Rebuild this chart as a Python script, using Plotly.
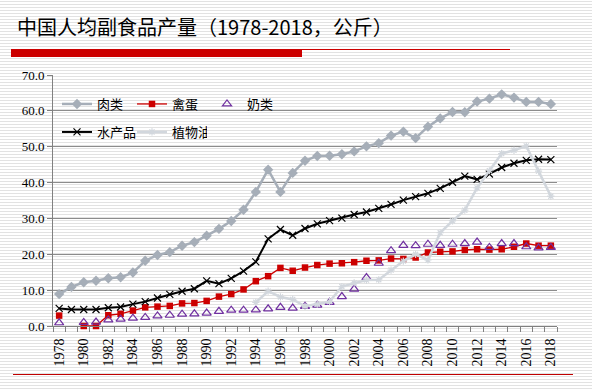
import plotly.graph_objects as go

years = list(range(1978, 2019))

meat = [8.9, 10.9, 12.2, 12.6, 13.3, 13.6, 14.9, 18.2, 19.8, 20.6,
        22.4, 23.4, 25.2, 27.1, 29.3, 32.4, 37.4, 43.6, 37.4, 42.7,
        46.1, 47.4, 47.5, 47.9, 48.7, 50.1, 51.0, 53.1, 54.2, 52.4,
        55.6, 57.9, 59.7, 59.6, 62.6, 63.4, 64.6, 63.7, 62.5, 62.5, 61.9]

eggs = [2.9, None, 0.0, 0.0, 3.0, 3.4, 4.3, 5.2, 5.4, 5.6,
        6.3, 6.4, 7.0, 8.2, 8.9, 10.2, 12.5, 13.9, 16.2, 15.4,
        16.3, 17.0, 17.4, 17.5, 17.8, 18.2, 18.3, 18.8, 18.7, 19.1,
        20.5, 20.7, 20.8, 21.2, 21.4, 21.3, 21.4, 22.1, 23.0, 22.4, 22.4]

milk = [0.9, None, 1.0, 1.1, 1.7, 1.9, 2.2, 2.4, 2.8, 3.0,
        3.3, 3.4, 3.6, 4.1, 4.4, 4.4, 4.5, 4.8, 5.2, 5.0,
        5.5, 5.8, 6.6, 8.2, 10.3, 13.5, 17.5, 21.0, 22.5, 22.4,
        22.8, 22.5, 22.8, 23.0, 23.4, 21.9, 23.0, 23.0, 22.1, 21.8, 21.9]

fish = [4.9, 4.6, 4.6, 4.6, 5.1, 5.3, 6.1, 6.8, 7.8, 8.8,
        9.7, 10.4, 12.6, 11.8, 13.3, 15.3, 17.9, 24.3, 26.9, 25.3,
        27.2, 28.5, 29.4, 30.1, 31.1, 31.8, 32.8, 33.9, 35.1, 36.1,
        37.0, 38.4, 40.1, 41.8, 40.9, 42.4, 44.2, 45.4, 46.2, 46.5, 46.4]

oil = [None] * 16 + [6.6, 9.7, 8.1, 7.4,
        5.5, 6.1, 6.8, 11.0, 12.0, 12.8, 12.9, 15.6, 18.1, 20.0,
        18.4, 26.0, 29.3, 32.3, 38.5, 43.3, 48.1, 49.0, 50.2, 43.2, 36.2]

names = ["肉类", "禽蛋", "奶类", "水产品", "植物油"]
title_text = "中国人均副食品产量（1978-2018，公斤）"
tick_years = list(range(1978, 2019, 2))

W, H = 592, 390
ML, MR, MT, MB = 53, 35, 75, 64
PW, PH = W - ML - MR, H - MT - MB


def px2x(x):
    return (x - ML) / PW


def py2y(y):
    return (H - MB - y) / PH


fig = go.Figure()

fig.add_trace(go.Scatter(
    x=years, y=meat, name=names[0], mode="lines+markers",
    line=dict(color="#A6AEB8", width=2.5),
    marker=dict(symbol="diamond", size=8, color="#A6AEB8"),
    cliponaxis=False, legend="legend"))
fig.add_trace(go.Scatter(
    x=years, y=eggs, name=names[1], mode="lines+markers",
    line=dict(color="#CC0000", width=1.3),
    marker=dict(symbol="square", size=6.5, color="#CC0000"),
    cliponaxis=False, connectgaps=False, legend="legend"))
fig.add_trace(go.Scatter(
    x=years, y=milk, name=names[2], mode="markers",
    marker=dict(symbol="triangle-up-open", size=8, color="#7030A0",
                line=dict(width=1.2, color="#7030A0")),
    cliponaxis=False, legend="legend"))
fig.add_trace(go.Scatter(
    x=years, y=fish, name=names[3], mode="lines+markers",
    line=dict(color="#000000", width=2),
    marker=dict(symbol="x-thin-open", size=7, color="#000000",
                line=dict(width=1.2, color="#000000")),
    cliponaxis=False, legend="legend2"))
fig.add_trace(go.Scatter(
    x=years, y=oil, name=names[4], mode="lines+markers",
    line=dict(color="#D2D7DD", width=2.5),
    marker=dict(symbol="asterisk-open", size=6, color="#D2D7DD",
                line=dict(width=1.2, color="#D2D7DD")),
    cliponaxis=False, connectgaps=False, legend="legend2"))

# background stripes
parts = []
x0, x1 = px2x(0), px2x(W)
for yy in range(1, H, 3):
    yp = py2y(yy + 0.5)
    parts.append(f"M{x0},{yp} L{x1},{yp}")
shapes = [dict(type="path", xref="paper", yref="paper", path=" ".join(parts),
               line=dict(color="#E2E2E2", width=1), layer="below")]

# title underline
shapes.append(dict(type="rect", xref="paper", yref="paper",
                   x0=px2x(11), x1=px2x(302), y0=py2y(57), y1=py2y(49),
                   fillcolor="#CC0000", line=dict(width=0), layer="above"))
shapes.append(dict(type="line", xref="paper", yref="paper",
                   x0=px2x(302), x1=px2x(510), y0=py2y(49.5), y1=py2y(49.5),
                   line=dict(color="#CC0000", width=1), layer="above"))
# bottom line
shapes.append(dict(type="line", xref="paper", yref="paper",
                   x0=px2x(13), x1=px2x(573), y0=py2y(374.5), y1=py2y(374.5),
                   line=dict(color="#C00000", width=1), layer="above"))

fig.update_layout(
    width=W, height=H,
    margin=dict(l=ML, r=MR, t=MT, b=MB, pad=0),
    paper_bgcolor="white",
    plot_bgcolor="rgba(0,0,0,0)",
    shapes=shapes,
    annotations=[dict(text=title_text, xref="paper", yref="paper",
                      x=px2x(15), y=py2y(27), xanchor="left", yanchor="middle",
                      showarrow=False,
                      font=dict(family="Noto Sans CJK SC", size=20, color="#000000"))],
    legend=dict(orientation="h", x=px2x(57), y=py2y(104), xanchor="left",
                yanchor="middle", bgcolor="rgba(0,0,0,0)", entrywidth=30,
                font=dict(family="Noto Sans CJK SC", size=13, color="#000000")),
    legend2=dict(orientation="h", x=px2x(57), y=py2y(132), xanchor="left",
                 yanchor="middle", bgcolor="rgba(0,0,0,0)", entrywidth=30,
                 font=dict(family="Noto Sans CJK SC", size=13, color="#000000")),
    xaxis=dict(range=[1977.5, 2018.5], tickmode="array", tickvals=tick_years,
               ticktext=[str(t) for t in tick_years], tickangle=-90,
               ticks="outside", ticklen=6, tickcolor="rgba(0,0,0,0)",
               showgrid=False, zeroline=False, showline=True,
               linecolor="#808080", linewidth=1,
               tickfont=dict(family="Liberation Serif", size=14, color="#000000"),
               minor=dict(tickmode="array",
                          tickvals=[y - 0.5 for y in years] + [2018.5],
                          ticks="outside", ticklen=5, tickcolor="#808080",
                          showgrid=False)),
    yaxis=dict(range=[0, 70], tickmode="array",
               tickvals=[0, 10, 20, 30, 40, 50, 60, 70],
               ticktext=["0.0", "10.0", "20.0", "30.0", "40.0", "50.0", "60.0", "70.0"],
               ticks="outside", ticklen=5, tickcolor="#808080",
               showgrid=True, gridcolor="#8C8C8C", gridwidth=1,
               zeroline=False, showline=True, linecolor="#808080", linewidth=1,
               tickfont=dict(family="Liberation Serif", size=13, color="#000000")),
)

fig.write_html("out.html", config={"displayModeBar": False},
               post_script="document.body.style.margin='0';document.body.style.padding='0';")
